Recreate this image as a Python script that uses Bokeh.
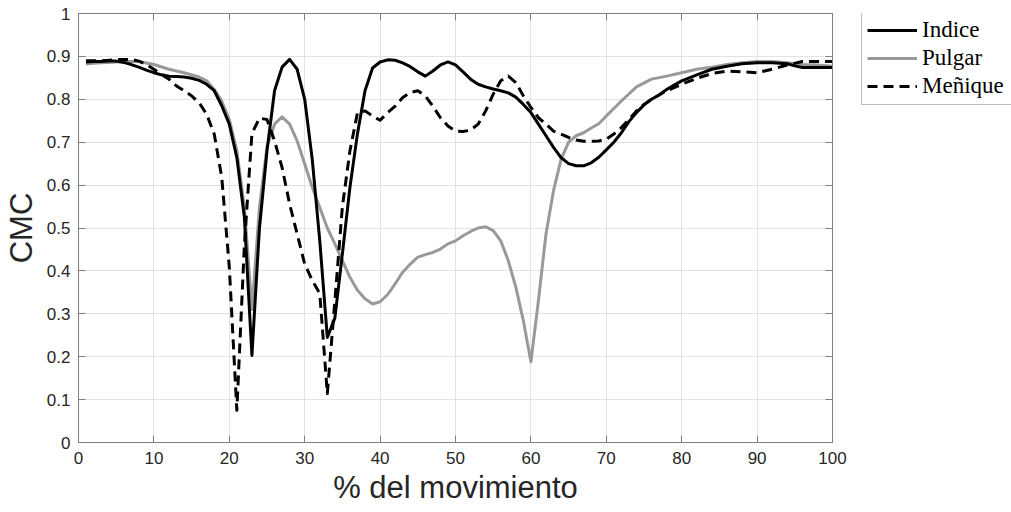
from bokeh.plotting import figure
from bokeh.layouts import row
from bokeh.models import (Range1d, LinearAxis, FixedTicker, CustomJSTickFormatter,
                          Legend, LegendItem, ColumnDataSource)
from bokeh.embed import file_html
from bokeh.resources import INLINE

# ---------------- data ----------------
indice_x = [1, 2, 3, 4, 5, 6, 7, 8, 9, 10, 11, 12, 13, 14, 15, 16, 17, 18, 19, 20,
            21, 22, 23, 24, 25, 26, 27, 28, 29, 30, 31, 32, 33, 34, 35, 36, 37, 38, 39, 40,
            41, 42, 43, 44, 45, 46, 47, 48, 49, 50, 51, 52, 53, 54, 55, 56, 57, 58, 59, 60,
            61, 62, 63, 64, 65, 66, 67, 68, 69, 70, 71, 72, 73, 74, 75, 76, 77, 78, 79, 80,
            82, 84, 86, 88, 90, 92, 94, 95, 96, 98, 100]
indice_y = [0.887, 0.888, 0.888, 0.889, 0.889, 0.886, 0.881, 0.875, 0.868, 0.862,
            0.857, 0.854, 0.853, 0.852, 0.849, 0.844, 0.835, 0.820, 0.785, 0.742,
            0.664, 0.525, 0.203, 0.500, 0.680, 0.820, 0.875, 0.893, 0.870, 0.800,
            0.660, 0.470, 0.245, 0.290, 0.440, 0.595, 0.720, 0.820, 0.873, 0.887,
            0.892, 0.891, 0.885, 0.876, 0.864, 0.854, 0.866, 0.880, 0.887, 0.880,
            0.864, 0.847, 0.835, 0.829, 0.824, 0.820, 0.815, 0.805, 0.788, 0.769,
            0.742, 0.715, 0.688, 0.664, 0.650, 0.645, 0.645, 0.652, 0.665, 0.682,
            0.700, 0.722, 0.748, 0.769, 0.787, 0.800, 0.810, 0.823, 0.833, 0.843,
            0.857, 0.870, 0.877, 0.883, 0.885, 0.885, 0.883, 0.878, 0.874, 0.874, 0.874]

pulgar_x = [1, 2, 3, 4, 5, 6, 8, 10, 12, 14, 16, 17, 18, 19, 20,
            21, 22, 23, 24, 25, 26, 27, 28, 29, 30, 31, 32, 33, 34, 35, 36, 37, 38, 39, 40,
            41, 42, 43, 44, 45, 46, 47, 48, 49, 50, 51, 52, 53, 54, 55, 56, 57, 58, 59, 60,
            61, 62, 63, 64, 65, 66, 67, 68, 69, 70, 72, 74, 76, 78, 80,
            82, 84, 86, 88, 90, 92, 94, 96, 98, 100]
pulgar_y = [0.882, 0.884, 0.885, 0.886, 0.887, 0.888, 0.888, 0.881, 0.870, 0.862,
            0.852, 0.843, 0.823, 0.796, 0.753,
            0.680, 0.548, 0.310, 0.548, 0.690, 0.742, 0.759, 0.742, 0.703, 0.649,
            0.595, 0.548, 0.500, 0.463, 0.424, 0.385, 0.355, 0.335, 0.323, 0.328,
            0.345, 0.370, 0.397, 0.416, 0.432, 0.438, 0.443, 0.451, 0.463, 0.470,
            0.482, 0.492, 0.500, 0.503, 0.494, 0.470, 0.424, 0.362, 0.284, 0.188,
            0.331, 0.486, 0.587, 0.660, 0.700, 0.715, 0.722, 0.733, 0.743, 0.761,
            0.796, 0.829, 0.847, 0.854, 0.862,
            0.870, 0.875, 0.881, 0.885, 0.888, 0.888, 0.885, 0.881, 0.880, 0.877]

menique_x = [1, 2, 3, 4, 5, 6, 7, 8, 9, 10, 11, 12, 13, 14, 15, 16, 17, 18, 19, 20,
             21, 22, 23, 24, 25, 26, 27, 28, 29, 30, 31, 32, 33, 34, 35, 36, 37, 38, 39, 40,
             41, 42, 43, 44, 45, 46, 47, 48, 49, 50, 51, 52, 53, 54, 55, 56, 57, 58, 59, 60,
             61, 62, 63, 64, 65, 66, 67, 68, 69, 70, 71, 72, 73, 74, 75, 76, 77, 78, 79, 80,
             82, 84, 86, 88, 90, 92, 94, 96, 98, 100]
menique_y = [0.890, 0.890, 0.890, 0.891, 0.893, 0.893, 0.893, 0.889, 0.881, 0.870,
             0.858, 0.847, 0.831, 0.820, 0.808, 0.792, 0.765, 0.719, 0.618, 0.409,
             0.075, 0.460, 0.720, 0.756, 0.753, 0.703, 0.641, 0.556, 0.486, 0.416,
             0.378, 0.347, 0.114, 0.330, 0.550, 0.680, 0.769, 0.773, 0.761, 0.751,
             0.769, 0.784, 0.804, 0.816, 0.820, 0.808, 0.784, 0.757, 0.738, 0.726,
             0.725, 0.728, 0.742, 0.773, 0.812, 0.843, 0.854, 0.839, 0.808, 0.781,
             0.757, 0.742, 0.726, 0.719, 0.711, 0.705, 0.702, 0.702, 0.703, 0.707,
             0.719, 0.734, 0.753, 0.773, 0.788, 0.800, 0.810, 0.820, 0.827, 0.835,
             0.849, 0.860, 0.866, 0.864, 0.862, 0.870, 0.880, 0.888, 0.888, 0.888]

series_names = ["Indice", "Pulgar", "Meñique"]
x_ticks = [0, 10, 20, 30, 40, 50, 60, 70, 80, 90, 100]
y_ticks = [0, 0.1, 0.2, 0.3, 0.4, 0.5, 0.6, 0.7, 0.8, 0.9, 1.0]
x_label = "% del movimiento"
y_label = "CMC"

# ---------------- styles ----------------
AXIS_COL = "#808080"
TXT_COL = "#262626"
styles = [dict(line_color="black", line_width=3, line_join="round"),
          dict(line_color="#999999", line_width=3, line_join="round"),
          dict(line_color="black", line_width=3, line_join="round", line_dash="10 6")]

# ---------------- main figure ----------------
p = figure(width=861, height=512, output_backend="svg", toolbar_location=None,
           x_range=Range1d(0, 100), y_range=Range1d(0, 1),
           min_border_left=78, min_border_right=29, min_border_top=13,
           min_border_bottom=70)
p.background_fill_color = "white"
p.border_fill_color = "white"
p.outline_line_color = AXIS_COL
p.outline_line_width = 1

yfmt = CustomJSTickFormatter(code="return String(Math.round(tick*10)/10)")

for ax in p.xaxis:
    ax.ticker = FixedTicker(ticks=x_ticks)
for ax in p.yaxis:
    ax.ticker = FixedTicker(ticks=y_ticks)
    ax.formatter = yfmt

for ax in p.xaxis + p.yaxis:
    ax.axis_line_color = AXIS_COL
    ax.major_tick_line_color = AXIS_COL
    ax.major_tick_in = 7
    ax.major_tick_out = 0
    ax.minor_tick_line_color = None
    ax.major_label_text_font = "Liberation Sans"
    ax.major_label_text_font_size = "17px"
    ax.major_label_text_color = TXT_COL
    ax.axis_label_text_font = "Liberation Sans"
    ax.axis_label_text_font_size = "31px"
    ax.axis_label_text_font_style = "normal"
    ax.axis_label_text_color = TXT_COL

p.xaxis.axis_label = x_label
p.yaxis.axis_label = y_label
p.xaxis.major_label_standoff = 9
p.xaxis.axis_label_standoff = 3
p.yaxis.major_label_standoff = 8
p.yaxis.axis_label_standoff = 5

top_ax = LinearAxis(ticker=FixedTicker(ticks=x_ticks),
                    axis_line_color=AXIS_COL, major_tick_line_color=AXIS_COL,
                    major_tick_in=7, major_tick_out=0, minor_tick_line_color=None,
                    major_label_standoff=0, major_label_text_font_size="1px",
                    major_label_text_alpha=0)
right_ax = LinearAxis(ticker=FixedTicker(ticks=y_ticks),
                      axis_line_color=AXIS_COL, major_tick_line_color=AXIS_COL,
                      major_tick_in=7, major_tick_out=0, minor_tick_line_color=None,
                      major_label_standoff=0, major_label_text_font_size="1px",
                      major_label_text_alpha=0)
p.add_layout(top_ax, "above")
p.add_layout(right_ax, "right")

p.xgrid.ticker = FixedTicker(ticks=x_ticks)
p.ygrid.ticker = FixedTicker(ticks=y_ticks)
p.grid.grid_line_color = "#e3e3e3"
p.grid.grid_line_width = 1

src_i = ColumnDataSource(dict(x=indice_x, y=indice_y))
src_p = ColumnDataSource(dict(x=pulgar_x, y=pulgar_y))
src_m = ColumnDataSource(dict(x=menique_x, y=menique_y))
sources = [src_i, src_p, src_m]

p.line("x", "y", source=src_p, **styles[1])
p.line("x", "y", source=src_i, **styles[0])
p.line("x", "y", source=src_m, **styles[2])

# ---------------- legend panel ----------------
# a narrow companion figure holding the legend; its ranges keep the
# (shared) series out of view, so only the legend is visible there
q = figure(width=150, height=512, output_backend="svg", toolbar_location=None,
           x_range=Range1d(200, 300), y_range=Range1d(0, 1),
           x_axis_location=None, y_axis_location=None,
           min_border_left=0, min_border_right=0, min_border_top=0,
           min_border_bottom=0)
q.grid.visible = False
q.outline_line_color = None
q.background_fill_color = "white"
q.border_fill_color = "white"

legend_renderers = [q.line("x", "y", source=s, **st) for s, st in zip(sources, styles)]

legend = Legend(items=[LegendItem(label=n, renderers=[r])
                       for n, r in zip(series_names, legend_renderers)],
                location=(0, 337), orientation="vertical",
                label_text_font="Liberation Serif", label_text_font_size="23px",
                label_text_color="black",
                glyph_width=50, glyph_height=26, label_height=26, label_width=92,
                label_standoff=5, spacing=2, padding=5, margin=0,
                border_line_color=AXIS_COL, border_line_width=1,
                background_fill_color="white", background_fill_alpha=1.0)
q.add_layout(legend, "center")

layout = row(p, q, spacing=0)
open("out.html", "w").write(file_html(layout, INLINE))
